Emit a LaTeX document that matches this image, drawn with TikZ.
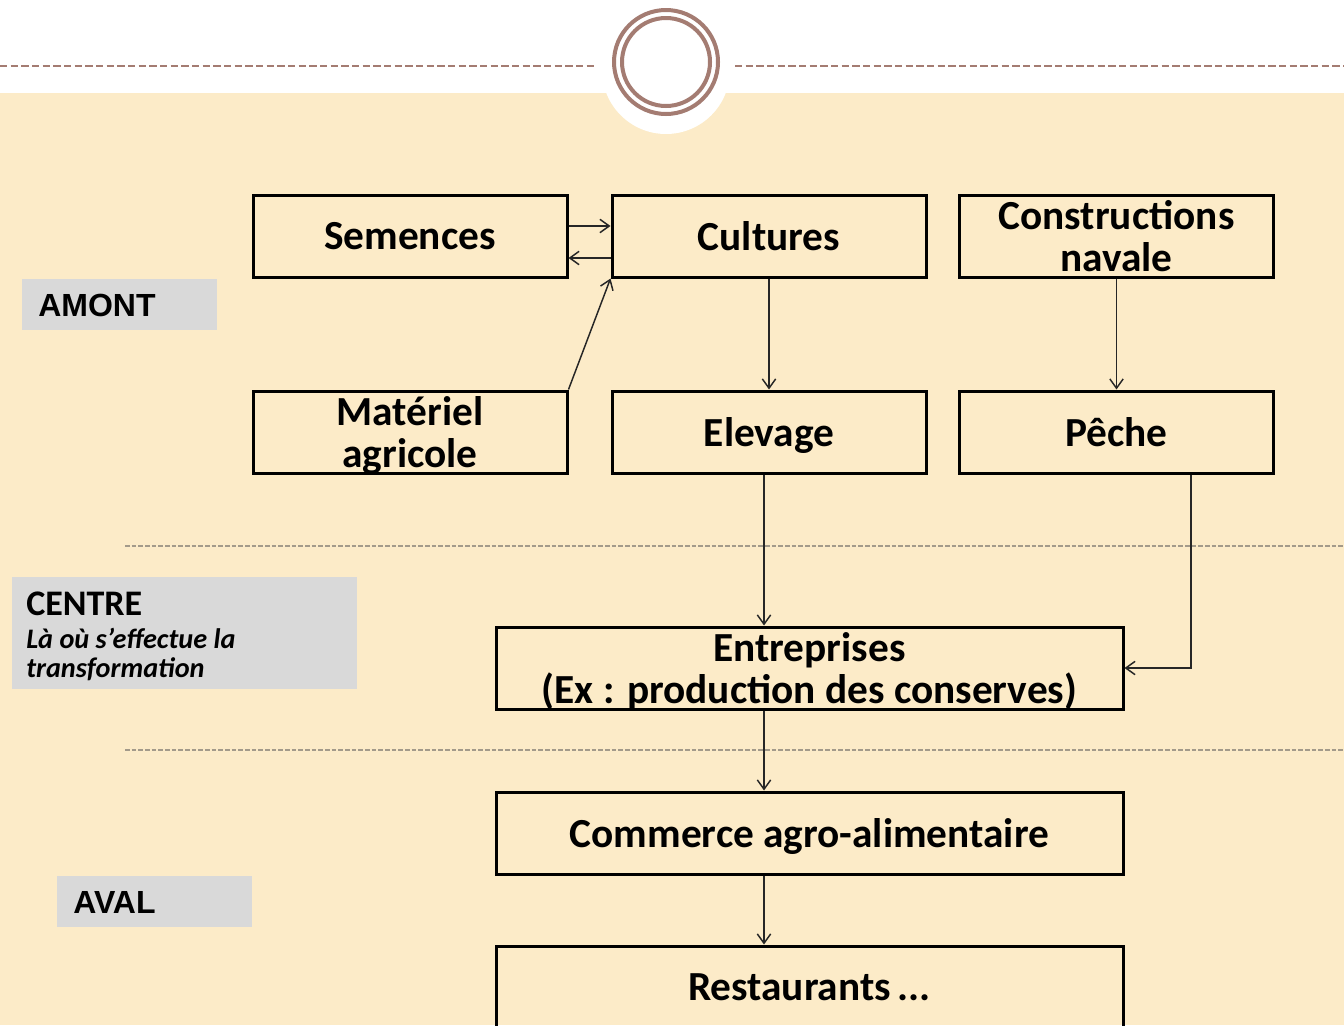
\documentclass[tikz,border=0pt]{standalone}
\usepackage{fontspec}
\setmainfont{Carlito}
\newfontfamily\labelfont{Liberation Sans}
\usetikzlibrary{arrows.meta}
\definecolor{bgbeige}{HTML}{FCEBC8}
\definecolor{ringbrown}{HTML}{A47C72}
\definecolor{labelgray}{HTML}{D9D9D9}
\definecolor{sepgray}{HTML}{A39A8A}
\definecolor{linkdark}{HTML}{262626}
\tikzset{
  box/.style={draw=black, line width=2.25pt, minimum width=235.5pt, minimum height=61.5pt,
    inner sep=0pt, align=center, text depth=0pt, font=\bfseries\fontsize{31}{32}\selectfont},
  widebox/.style={box, minimum width=470.25pt},
  link/.style={draw=linkdark, line width=1.1pt, -{Straight Barb[length=7pt,width=10pt,line width=1.1pt]}},
  separator/.style={draw=sepgray, line width=1.1pt, dash pattern=on 3.5pt off 1.5pt},
  topdash/.style={draw=ringbrown, line width=1.5pt, dash pattern=on 5.5pt off 2.5pt},
  tag/.style={fill=labelgray, draw=none},
  tagtext/.style={anchor=west, inner sep=0pt, font=\labelfont\bfseries\fontsize{24}{26}\selectfont},
}
\begin{document}
\begin{tikzpicture}[x=0.75pt, y=-0.75pt]
\useasboundingbox (0,0) rectangle (1344,1025);
% page background and header band
\fill[bgbeige] (0,93) rectangle (1344,1025);
\fill[white] (0,0) rectangle (1344,93);
\fill[white] (666,70) circle[radius=64];
\draw[topdash] (0,66) -- (595,66);
\draw[topdash] (735,66) -- (1344,66);
\draw[ringbrown, line width=3pt] (666,62) circle[radius=52];
\draw[ringbrown, line width=3pt] (666,62) circle[radius=44];

% section separators
\draw[separator] (125,546) -- (1344,546);
\draw[separator] (125,750) -- (1344,750);

% section tags
\fill[tag] (22,279) rectangle (217,330);
\node[tagtext] (amont) at (38,305) {AMONT};
\fill[tag] (12,577) rectangle (357,689);
\node[anchor=west, inner sep=0pt, font=\bfseries\fontsize{27}{29}\selectfont] (centre) at (26,604) {CENTRE};
\node[anchor=west, inner sep=0pt, font=\bfseries\itshape\fontsize{21.2}{23}\selectfont] (centre2) at (26,638) {Là où s’effectue la};
\node[anchor=west, inner sep=0pt, font=\bfseries\itshape\fontsize{21.2}{23}\selectfont] (centre3) at (26,669) {transformation};
\fill[tag] (57,876) rectangle (252,927);
\node[tagtext] (aval) at (73,902) {AVAL};

% boxes
\node[box] (sem) at (410,236) {Semences};
\node[box] (cul) at (769,236) {Cultures};
\node[box] (con) at (1116.5,236) {Constructions\\navale};
\node[box] (mat) at (410,432) {Matériel\\agricole};
\node[box] (ele) at (769,432) {Elevage};
\node[box] (pec) at (1116.5,432) {Pêche};
\node[widebox] (ent) at (809.5,668) {Entreprises\\(Ex : production des conserves)};
\node[widebox] (com) at (809.5,833) {Commerce agro-alimentaire};
\node[widebox] (res) at (809.5,987) {Restaurants\,...};

% connector guides
\coordinate (yup) at (0,226);
\coordinate (ydown) at (0,258);
\coordinate (xmain) at (764,0);
\coordinate (xpeche) at (1191,0);

% connectors
\draw[link] (sem.east |- yup) -- (cul.west |- yup);
\draw[link] (cul.west |- ydown) -- (sem.east |- ydown);
\draw[link] (mat.north east) -- (cul.south west);
\draw[link] (cul.south) -- (ele.north);
\draw[link] (con.south) -- (pec.north);
\draw[link] (ele.south -| xmain) -- (ent.north -| xmain);
\draw[link] (pec.south -| xpeche) |- (ent.east);
\draw[link] (ent.south -| xmain) -- (com.north -| xmain);
\draw[link] (com.south -| xmain) -- (res.north -| xmain);
\end{tikzpicture}
\end{document}
